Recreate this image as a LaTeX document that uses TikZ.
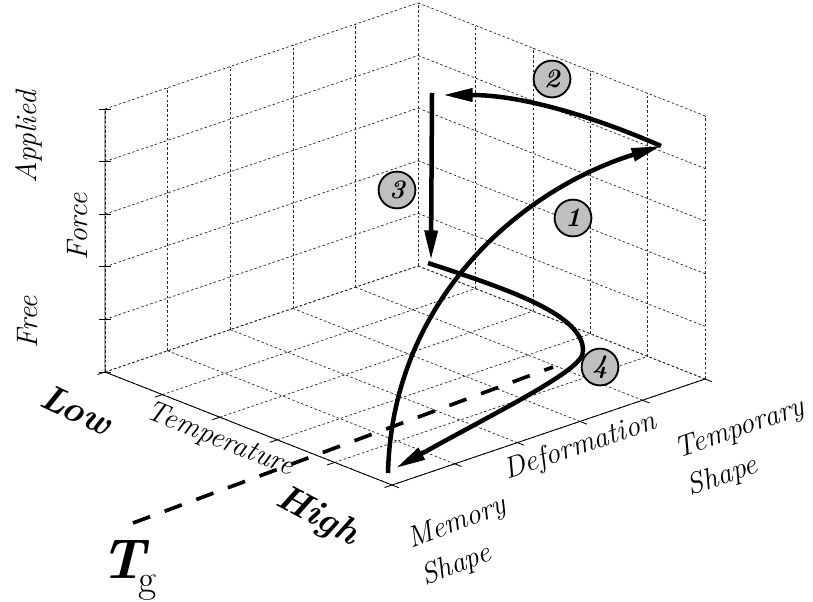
\documentclass[tikz,border=0pt]{standalone}
\usepackage{tikz}
\usetikzlibrary{arrows.meta}
\tikzset{
    gridline/.style={
        line width=0.5pt,
        black!85,
        dash pattern=on 1.8pt off 1.6pt
    },
    axisline/.style={
        line width=0.6pt,
        black
    },
    % thick path of the cycle
    patharrow/.style={
        line width=3.2pt,
        black,
        -{Triangle[length=21pt, width=9pt]}
    },
    tgline/.style={
        line width=2.6pt,
        black,
        dash pattern=on 13pt off 11pt
    },
    stepmark/.style={
        circle, draw, line width=1.3pt, fill=gray!50,
        minimum size=0.92cm, inner sep=0pt,
        font=\fontsize{19}{19}\selectfont\bfseries\itshape
    },
    axislabel/.style={
        font=\fontsize{21}{28}\selectfont\itshape, inner sep=0pt
    },
    endlabel/.style={
        font=\fontsize{26}{28}\selectfont\bfseries\itshape, inner sep=0pt
    }
}

\begin{document}
\begin{tikzpicture}[x=0.025cm, y=-0.025cm]
\useasboundingbox (0,0) rectangle (813,602);

% box: x = temperature, y = deformation, z = force
\begin{scope}[shift={(105,372)}, x={(1.435cm,-0.565cm)}, y={(1.565cm,0.53cm)}, z={(0cm,1.315cm)}]
  \foreach \i in {0,...,5}{
    % floor
    \draw[gridline] (\i,0,0) -- (\i,5,0);
    \draw[gridline] (0,\i,0) -- (5,\i,0);
    % left wall
    \draw[gridline] (0,\i,0) -- (0,\i,5);
    \draw[gridline] (0,0,\i) -- (0,5,\i);
    % right wall
    \draw[gridline] (\i,5,0) -- (\i,5,5);
    \draw[gridline] (0,5,\i) -- (5,5,\i);
  }
  \draw[axisline] (0,0,5) -- (0,0,0) -- (5,0,0) -- (5,5,0);
  % ticks
  \foreach \i in {0,...,5}{
    \draw[axisline] (0,0,\i) ++(-0.15cm,0cm) -- ++(0.3cm,0cm);
    \draw[axisline] (\i,0,0) -- ++(0,-0.12,0);
    \draw[axisline] (5,\i,0) -- ++(0.12,0,0);
  }
\end{scope}

% glass transition line
\coordinate (tgA) at (553,367);
\coordinate (tgB) at (133,523);
\draw[tgline] (tgB) -- (tgA);

% cycle
\coordinate (start) at (388,473);
\coordinate (peak) at (661,146);
\coordinate (lift) at (443,95);
\coordinate (top) at (432,93);
\coordinate (drop) at (431,260);
\coordinate (rest) at (428,263);
\coordinate (turn) at (583,352);
\coordinate (back) at (396,468);

\draw[patharrow] (start) .. controls (392,300) and (520,190) .. (peak);
\draw[patharrow] (peak) .. controls (590,115) and (520,95) .. (lift);
\draw[patharrow] (top) -- (drop);
\draw[line width=3.2pt] (rest) .. controls (510,290) and (585,315) .. (turn);
\draw[patharrow] (turn) .. controls (583,370) and (500,410) .. (back);

% step numbers
\node[stepmark] (m1) at (573,218) {1};
\node[stepmark] (m2) at (552,79) {2};
\node[stepmark] (m3) at (397,190) {3};
\node[stepmark] (m4) at (600,367) {4};

% labels
\node[axislabel, rotate=90] (applied) at (29,137) {Applied};
\node[axislabel, rotate=90] (force) at (78,227) {Force};
\node[axislabel, rotate=90] (free) at (28,322) {Free};
\node[endlabel, rotate=-25] (low) at (77,410) {Low};
\node[axislabel, rotate=-22] (temp) at (220,440) {Temperature};
\node[endlabel, rotate=-28] (high) at (317,517) {High};
\node[axislabel, rotate=19] (deform) at (580,447) {Deformation};
\node[axislabel, rotate=19, align=left] (tempshape) at (746,448) {Temporary\\Shape};
\node[axislabel, rotate=21, align=left] (memshape) at (464,542) {Memory\\Shape};
\node[inner sep=0pt, anchor=base west] (tg) at (100,578)
  {\fontsize{40}{40}\selectfont\bfseries\itshape T\kern-0.12em\raisebox{-0.25em}{\fontsize{28}{28}\selectfont\mdseries\upshape g}};

\end{tikzpicture}
\end{document}
